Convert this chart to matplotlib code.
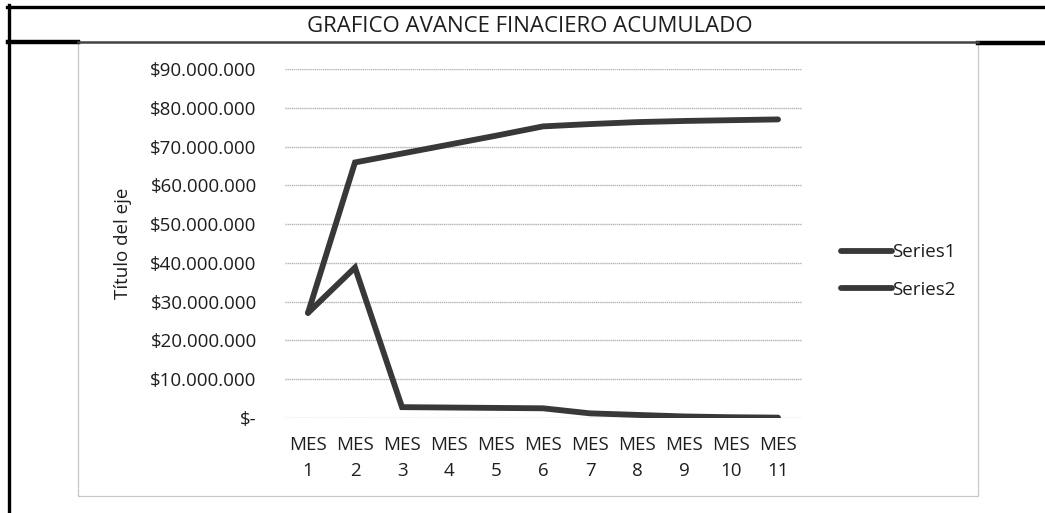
import matplotlib
matplotlib.use("Agg")
import matplotlib.pyplot as plt
from matplotlib.lines import Line2D
from matplotlib.patches import Rectangle
from matplotlib.ticker import FuncFormatter

# data (pesos)
meses = ["MES\n1", "MES\n2", "MES\n3", "MES\n4", "MES\n5", "MES\n6",
         "MES\n7", "MES\n8", "MES\n9", "MES\n10", "MES\n11"]
series1 = [27.1, 65.9, 68.2, 70.5, 72.8, 75.2, 75.8, 76.3, 76.6, 76.8, 77.0]
series2 = [27.1, 38.8, 2.8, 2.7, 2.6, 2.5, 1.2, 0.8, 0.4, 0.2, 0.1]
series1 = [v * 1e6 for v in series1]
series2 = [v * 1e6 for v in series2]
yticks = [0, 10e6, 20e6, 30e6, 40e6, 50e6, 60e6, 70e6, 80e6, 90e6]

plt.rcParams['font.family'] = ['Open Sans', 'DejaVu Sans']
W, H = 1045, 513
fig = plt.figure(figsize=(W / 100, H / 100), dpi=100)

def fx(px):
    return px / W

def fy(py):
    return 1 - py / H

line_col = '#383838'
txt_col = '#1e1e1e'
fs = 13.5

# outer table frame (black rules)
fig.add_artist(Line2D([fx(7), 1], [fy(6.5), fy(6.5)], color='black', lw=2.4))
fig.add_artist(Line2D([fx(8.5), fx(8.5)], [fy(5), 0], color='black', lw=2.4))
fig.add_artist(Line2D([fx(8), fx(78)], [fy(41.5), fy(41.5)], color='black', lw=3.2))
fig.add_artist(Line2D([fx(978), 1], [fy(43), fy(43)], color='black', lw=3.2))
fig.add_artist(Line2D([fx(78), fx(978)], [fy(41.5), fy(41.5)], color='#444444', lw=1.8))

# chart area border
fig.add_artist(Rectangle((fx(78), fy(496)), fx(978) - fx(78), fy(42) - fy(496),
                         fill=False, edgecolor='#a8a8a8', lw=0.9, ls=(0, (1, 0.6))))

fig.text(fx(530), fy(26), "GRAFICO AVANCE FINACIERO ACUMULADO",
         ha='center', va='center', fontsize=16, color=txt_col)

ax = fig.add_axes([fx(284.5), fy(418), fx(801.5) - fx(284.5), fy(69) - fy(418)])
x = list(range(len(meses)))
ax.plot(x, series1, color=line_col, lw=4.2, solid_capstyle='round',
        solid_joinstyle='miter', label='Series1')
ax.plot(x, series2, color=line_col, lw=4.2, solid_capstyle='round',
        solid_joinstyle='miter', label='Series2')

ax.set_xlim(-0.5, len(meses) - 0.5)
ax.set_ylim(0, 90e6)
ax.set_yticks(yticks)
ax.set_xticks(x)
ax.set_xticklabels(meses, linespacing=1.55)


def money(v, pos):
    if v == 0:
        return "$-"
    return "$" + format(int(round(v)), ",").replace(",", ".")


ax.yaxis.set_major_formatter(FuncFormatter(money))
ax.tick_params(axis='y', length=0, pad=20, labelsize=fs, labelcolor=txt_col)
ax.tick_params(axis='x', length=0, pad=13, labelsize=fs, labelcolor=txt_col)
for s in ax.spines.values():
    s.set_visible(False)
ax.grid(axis='y', color='#b4b4b4', lw=1.0, ls=(0, (1, 0.5)))
ax.set_axisbelow(True)

fig.text(fx(123), fy(243), "Título del eje", rotation=90, ha='center', va='center',
         fontsize=fs, color=txt_col)

fig.legend(loc='center left', bbox_to_anchor=(fx(824), fy(271)), frameon=False,
           fontsize=fs, handlelength=2.7, handletextpad=0.05, labelspacing=1.05,
           labelcolor=txt_col)

fig.savefig("out.png", dpi=100, facecolor='white')
